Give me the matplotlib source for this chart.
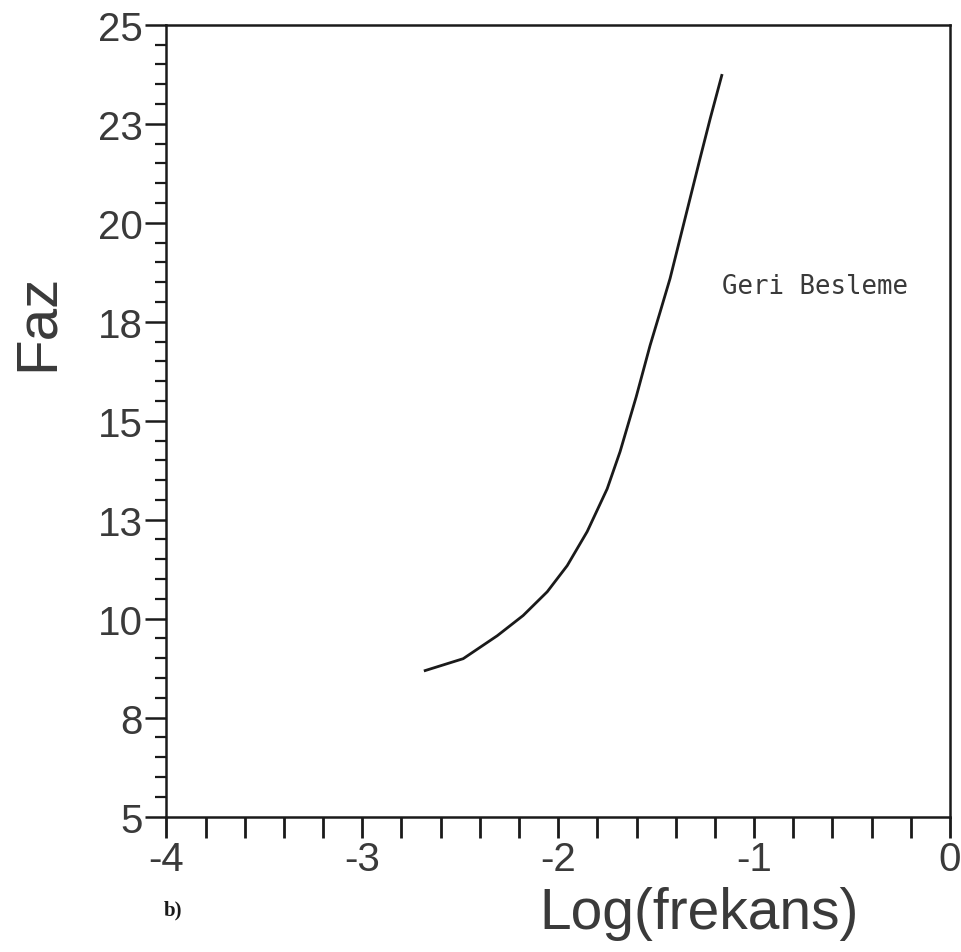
import matplotlib.pyplot as plt
import numpy as np

# curve
log_frekans = [-2.679, -2.485, -2.311, -2.179, -2.056, -1.954, -1.852, -1.750, -1.684,
               -1.602, -1.531, -1.480, -1.429, -1.378, -1.327, -1.276, -1.224, -1.165]
faz = [8.69, 8.99, 9.57, 10.08, 10.68, 11.34, 12.20, 13.28, 14.22,
       15.60, 16.90, 17.74, 18.59, 19.60, 20.61, 21.62, 22.63, 23.72]

xtick_values = [-4, -3, -2, -1, 0]
xtick_labels = ['-4', '-3', '-2', '-1', '0']
ytick_values = [5, 7.5, 10, 12.5, 15, 17.5, 20, 22.5, 25]
ytick_labels = ['5', '8', '10', '13', '15', '18', '20', '23', '25']

ink = '#1a1a1a'
text_ink = '#3a3a3a'
font = 'Liberation Sans'

fig = plt.figure(figsize=(9.62, 9.53), dpi=100)
ax = fig.add_axes([0.173, 0.142, 0.8145, 0.831])

ax.plot(log_frekans, faz, color=ink, linewidth=2.0)

ax.set_xlim(-4, 0)
ax.set_ylim(5, 25)

ax.set_xticks(xtick_values)
ax.set_xticklabels(xtick_labels, fontfamily=font, fontsize=29, color=text_ink)
ax.set_xticks(np.arange(-4, 0.01, 0.2), minor=True)
ax.set_yticks(ytick_values)
ax.set_yticklabels(ytick_labels, fontfamily=font, fontsize=29, color=text_ink)
ax.set_yticks(np.arange(5, 25.01, 0.5), minor=True)

ax.tick_params(axis='x', which='both', direction='out', length=15, width=2.0,
               color=ink, pad=2)
ax.tick_params(axis='y', which='major', direction='out', length=15, width=1.8,
               color=ink, pad=2)
ax.tick_params(axis='y', which='minor', direction='out', length=8, width=1.6,
               color=ink)

for s in ax.spines.values():
    s.set_linewidth(1.8)
    s.set_color(ink)

ax.set_xlabel('Log(frekans)', fontfamily=font, fontsize=41, color=text_ink)
ax.xaxis.set_label_coords(0.68, -0.088)
ax.set_ylabel('Faz', fontfamily=font, fontsize=42, color=text_ink)
ax.yaxis.set_label_coords(-0.13, 0.625)

ax.text(-1.163, 18.41, 'Geri Besleme', fontfamily='DejaVu Sans Mono',
        fontsize=18.5, color=text_ink, va='center', ha='left')

fig.text(0.17, 0.045, 'b)', fontfamily='Liberation Serif', fontweight='bold',
         fontsize=15, color=ink, ha='left', va='center')

fig.savefig('out.png', dpi=100)
